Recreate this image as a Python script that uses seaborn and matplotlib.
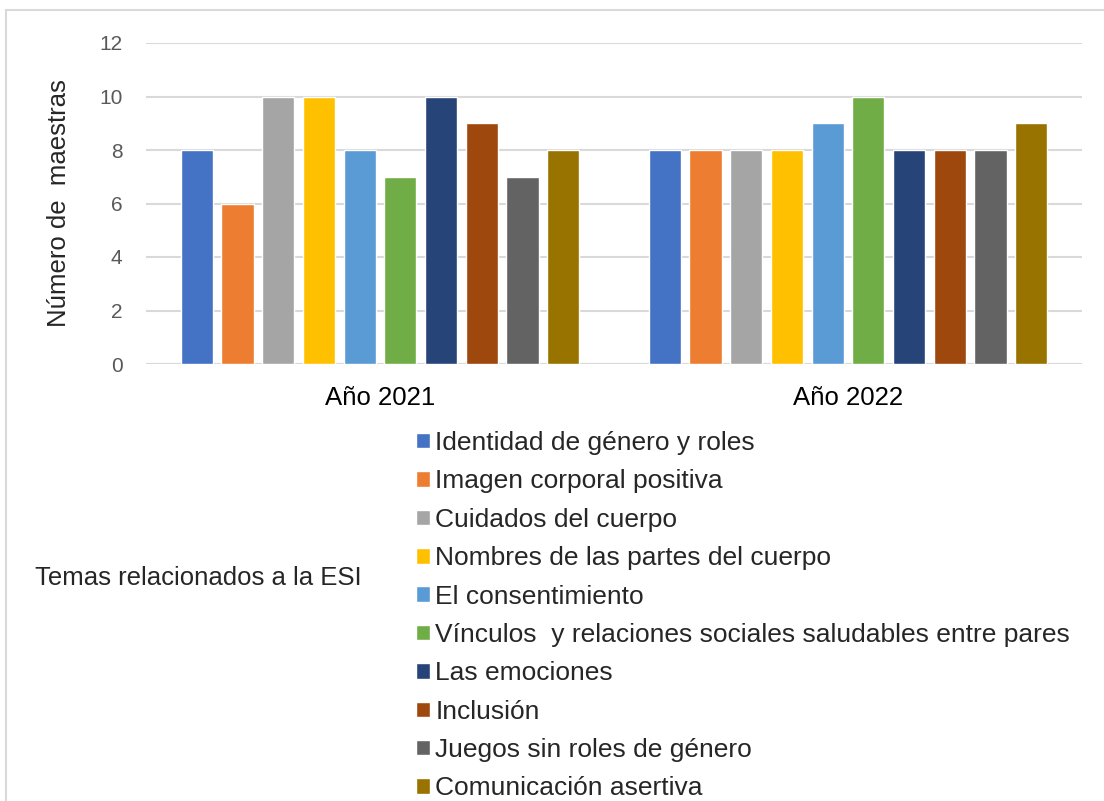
import matplotlib
matplotlib.use("Agg")

import matplotlib.pyplot as plt
import pandas as pd
import seaborn as sns
from matplotlib.patches import Rectangle

YEARS = ["Año 2021", "Año 2022"]
TEMAS = [
    "Identidad de género y roles",
    "Imagen corporal positiva",
    "Cuidados del cuerpo",
    "Nombres de las partes del cuerpo",
    "El consentimiento",
    "Vínculos  y relaciones sociales saludables entre pares",
    "Las emociones",
    "Inclusión",
    "Juegos sin roles de género",
    "Comunicación asertiva",
]
VALUES_2021 = [8, 6, 10, 10, 8, 7, 10, 9, 7, 8]
VALUES_2022 = [8, 8, 8, 8, 9, 10, 8, 8, 8, 9]
COLORS = ["#4472C4", "#ED7D31", "#A5A5A5", "#FFC000", "#5B9BD5",
          "#70AD47", "#264478", "#9E480E", "#636363", "#997300"]

# long table, one row per bar
rows = []
for year, values in zip(YEARS, [VALUES_2021, VALUES_2022]):
    for tema, v in zip(TEMAS, values):
        rows.append({"year": year, "tema": tema, "maestras": v})
df = pd.DataFrame(rows)

sns.set_style("white")
plt.rcParams["font.family"] = ["Liberation Sans", "DejaVu Sans"]

grid = "#d9d9d9"
fig = plt.figure(figsize=(11.04, 8.01), dpi=100)
ax = fig.add_axes([146 / 1104, 1 - 364 / 801, 936 / 1104, 321 / 801])

sns.barplot(
    data=df, x="year", y="maestras", hue="tema",
    order=YEARS, hue_order=TEMAS,
    palette=dict(zip(TEMAS, COLORS)),
    width=0.87, gap=0.21, saturation=1, ax=ax, legend=True,
)

ax.set_ylim(0, 12)
ax.set_yticks(range(0, 13, 2))
ax.grid(axis="y", color=grid, linewidth=1.5)
ax.set_axisbelow(True)
for side in ["top", "right", "left", "bottom"]:
    ax.spines[side].set_visible(False)
ax.axhline(0, color=grid, linewidth=1.5, zorder=0)
ax.tick_params(axis="y", length=0, pad=17, labelsize=15, labelcolor="#595959")
ax.tick_params(axis="x", length=0, pad=16, labelsize=18.5, labelcolor="#000000")
ax.set_xlabel("")
ax.set_ylabel("Número de  maestras", fontsize=18.5)
ax.yaxis.set_label_coords((71 - 146) / 936, 0.5)

handles, labels = ax.get_legend_handles_labels()
ax.legend_.remove()
fig.legend(
    handles, labels, loc="upper left",
    bbox_to_anchor=(416 / 1104, 1 - 431 / 801),
    frameon=False, borderpad=0, borderaxespad=0,
    handlelength=0.53, handleheight=0.53, handletextpad=0.2,
    labelspacing=0.545, fontsize=19,
)
fig.text(35 / 1104, 1 - 578 / 801, "Temas relacionados a la ESI",
         fontsize=18.5, va="center", ha="left")

# light chart border, cut by the image edge on the right and bottom
fig.patches.append(Rectangle((6 / 1104, -0.1), 1.2, 1.1 - 10 / 801,
                             transform=fig.transFigure, fill=False,
                             edgecolor=grid, linewidth=1.5))

fig.savefig("out.png", dpi=100)
plt.close(fig)
